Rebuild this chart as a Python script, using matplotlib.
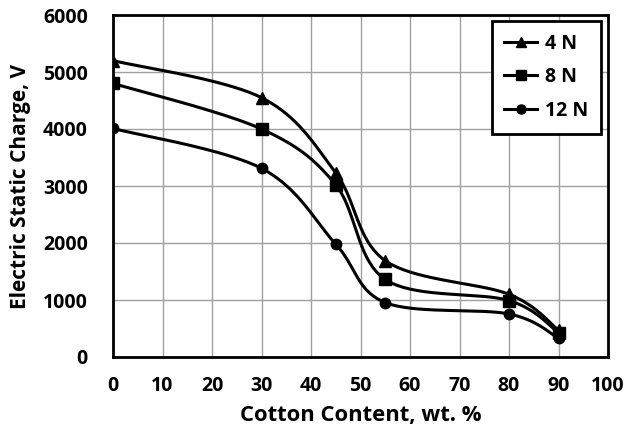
import numpy as np
import matplotlib
matplotlib.use("Agg")
import matplotlib.pyplot as plt

plt.rcParams['font.family'] = ['Open Sans', 'DejaVu Sans']
plt.rcParams['font.weight'] = 'bold'

# data
cotton = [0, 30, 45, 55, 80, 90]
charge_4n = [5200, 4550, 3230, 1690, 1100, 470]
charge_8n = [4800, 4000, 3020, 1360, 990, 425]
charge_12n = [4010, 3310, 1980, 955, 755, 330]
labels = ["4 N", "8 N", "12 N"]
markers = ["^", "s", "o"]


def smooth(xs, ys, n=40):
    # Excel-style smoothed line (cardinal bezier)
    p = np.column_stack([xs, ys]).astype(float)
    p = np.vstack([p[0], p, p[-1]])
    out = []
    for i in range(1, len(p) - 2):
        p0, p1, p2, p3 = p[i - 1], p[i], p[i + 1], p[i + 2]
        c1 = p1 + (p2 - p0) / 6
        c2 = p2 - (p3 - p1) / 6
        t = np.linspace(0, 1, n)[:, None]
        seg = ((1 - t) ** 3) * p1 + 3 * ((1 - t) ** 2) * t * c1 + 3 * (1 - t) * t ** 2 * c2 + t ** 3 * p2
        out.append(seg)
    pts = np.vstack(out)
    return pts[:, 0], pts[:, 1]


fig = plt.figure(figsize=(6.27, 4.25), dpi=100)
ax = fig.add_axes([113 / 627, 1 - 357 / 425, (608 - 113) / 627, (357 - 15) / 425])

for ys, lab, m in zip([charge_4n, charge_8n, charge_12n], labels, markers):
    sx, sy = smooth(cotton, ys)
    ax.plot(sx, sy, color='black', lw=2.2, zorder=3)
    ax.plot(cotton, ys, ls='none', marker=m, color='black', ms=8 if m != 'o' else 7.5, zorder=4)
    ax.plot([], [], color='black', lw=2.2, marker=m, ms=7 if m != 'o' else 6.5, label=lab)

ax.set_xlim(0, 100)
ax.set_ylim(0, 6000)
ax.set_xticks(range(0, 101, 10))
ax.set_yticks(range(0, 6001, 1000))
ax.grid(True, color='#a0a0a0', lw=1)
ax.set_axisbelow(True)
ax.tick_params(length=0, labelsize=14, pad=14)
ax.tick_params(axis='y', pad=18)
for lab in ax.get_xticklabels() + ax.get_yticklabels():
    lab.set_fontweight('bold')
for s in ax.spines.values():
    s.set_linewidth(2)
    s.set_color('black')

ax.set_xlabel("Cotton Content, wt. %", fontsize=15.8, fontweight='bold', labelpad=6)
ax.set_ylabel("Electric Static Charge, V", fontsize=15, fontweight='bold', labelpad=9)

leg = ax.legend(loc='upper right', bbox_to_anchor=(1 - 7 / 495, 1 - 6 / 342), borderaxespad=0,
                fancybox=False, edgecolor='black', framealpha=1, fontsize=14, handlelength=1.7,
                handletextpad=0.4, labelspacing=0.7, borderpad=0.65)
leg.get_frame().set_linewidth(2)
for t in leg.get_texts():
    t.set_fontweight('bold')

fig.savefig("out.png", dpi=100)
